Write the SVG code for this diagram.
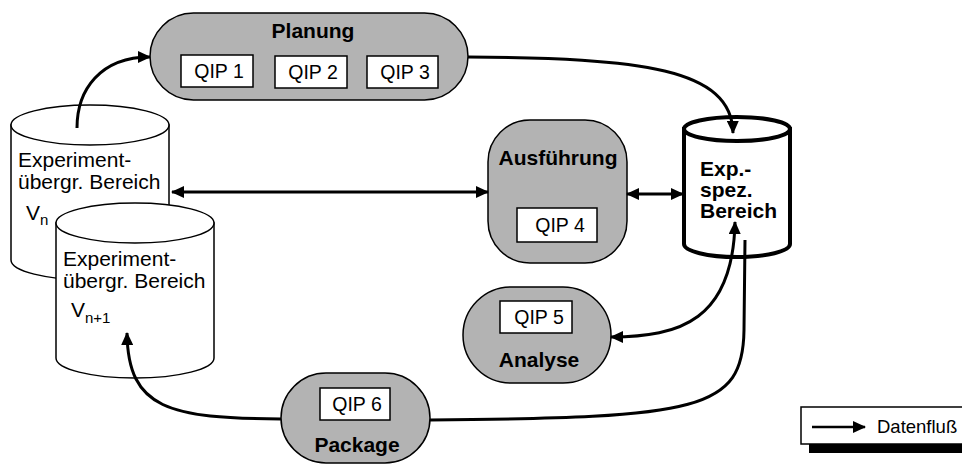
<svg xmlns="http://www.w3.org/2000/svg" width="962" height="466" viewBox="0 0 962 466">
<style>
.t{font-family:"Liberation Sans",Arial,sans-serif;font-size:21px;fill:#000}
.b{font-family:"Liberation Sans",Arial,sans-serif;font-size:21px;font-weight:bold;fill:#000}
.q{font-family:"Liberation Sans",Arial,sans-serif;font-size:19.5px;fill:#000;text-anchor:middle}
.lg{font-family:"Liberation Sans",Arial,sans-serif;font-size:18.5px;fill:#000}
.proc{fill:#b3b3b3;stroke:#000;stroke-width:1.5}
.qbox{fill:#fff;stroke:#000;stroke-width:1.5}
.cyl{fill:#fff;stroke:#000;stroke-width:1.5}
.con{fill:none;stroke:#000;stroke-width:3}
</style>
<defs>
<marker id="ah" viewBox="0 0 13 12" refX="12" refY="6" markerWidth="13" markerHeight="12" markerUnits="userSpaceOnUse" orient="auto-start-reverse">
<path d="M0,0 L13,6 L0,12 z" fill="#000"/>
</marker>
</defs>

<g id="cyl-vn">
<path class="cyl" d="M11,125 L11,260 A79,20 0 0 0 169,260 L169,125 Z"/>
<ellipse class="cyl" cx="90" cy="125" rx="79" ry="20"/>
<text class="t" x="18" y="167">Experiment-</text>
<text class="t" x="18" y="189">übergr. Bereich</text>
<text class="t" x="26" y="220">V<tspan font-size="15" dy="5">n</tspan></text>
</g>

<g id="cyl-vn1">
<path class="cyl" d="M56,223 L56,358 A79,20 0 0 0 214,358 L214,223 Z"/>
<ellipse class="cyl" cx="135" cy="223" rx="79" ry="20"/>
<text class="t" x="63" y="266">Experiment-</text>
<text class="t" x="63" y="288">übergr. Bereich</text>
<text class="t" x="71" y="317">V<tspan font-size="15" dy="6">n+1</tspan></text>
</g>

<g id="planung">
<rect class="proc" x="150" y="13" width="318" height="87" rx="43.5"/>
<text class="b" x="313" y="38" text-anchor="middle">Planung</text>
<rect class="qbox" x="181" y="55" width="72" height="32"/>
<text class="q" x="219" y="78">QIP 1</text>
<rect class="qbox" x="275" y="56" width="72" height="32"/>
<text class="q" x="313" y="79">QIP 2</text>
<rect class="qbox" x="367" y="56" width="71" height="32"/>
<text class="q" x="405" y="79">QIP 3</text>
</g>

<g id="ausfuehrung">
<rect class="proc" x="488" y="120" width="139" height="143" rx="42"/>
<text class="b" x="558" y="165" text-anchor="middle">Ausführung</text>
<rect class="qbox" x="517" y="208" width="80" height="34"/>
<text class="q" x="560" y="232">QIP 4</text>
</g>

<g id="exp-spez">
<path d="M684,129 L684,244 A53,13 0 0 0 790,244 L790,129 Z" fill="#fff" stroke="#000" stroke-width="4"/>
<ellipse cx="737" cy="129" rx="53" ry="12" fill="#fff" stroke="#000" stroke-width="4"/>
<text class="b" x="700" y="176">Exp.-</text>
<text class="b" x="700" y="197">spez.</text>
<text class="b" x="700" y="218">Bereich</text>
</g>

<g id="analyse">
<rect class="proc" x="463" y="287" width="148" height="96" rx="48"/>
<rect class="qbox" x="500" y="301" width="72" height="32"/>
<text class="q" x="539" y="324">QIP 5</text>
<text class="b" x="539" y="367" text-anchor="middle">Analyse</text>
</g>

<g id="package">
<rect class="proc" x="281" y="373" width="149" height="90" rx="45"/>
<rect class="qbox" x="320" y="388" width="70" height="32"/>
<text class="q" x="357" y="411">QIP 6</text>
<text class="b" x="357" y="452" text-anchor="middle">Package</text>
</g>

<g id="connectors">
<path class="con" d="M77,128 C77,90 100,57 150,57" marker-end="url(#ah)"/>
<path class="con" d="M468,57 C640,58 732,68 733,133" marker-end="url(#ah)"/>
<path class="con" d="M172,192 L488,192" marker-start="url(#ah)" marker-end="url(#ah)"/>
<path class="con" d="M627,194 L683,194" marker-start="url(#ah)" marker-end="url(#ah)"/>
<path class="con" d="M735,222 C733,320 680,337 611,337" marker-start="url(#ah)" marker-end="url(#ah)"/>
<path class="con" d="M745,240 L744,330 C743,410 700,418 430,420"/>
<path class="con" d="M281,419 C170,418 128,410 127,333" marker-end="url(#ah)"/>
</g>

<g id="legend">
<rect x="809" y="415" width="170" height="38" fill="#000"/>
<rect x="801" y="407" width="170" height="37" fill="#fff" stroke="#000" stroke-width="1.5"/>
<path d="M812,427 L865,427" stroke="#000" stroke-width="2.5" fill="none" marker-end="url(#ah)"/>
<text class="lg" x="877" y="433">Datenfluß</text>
</g>
</svg>
